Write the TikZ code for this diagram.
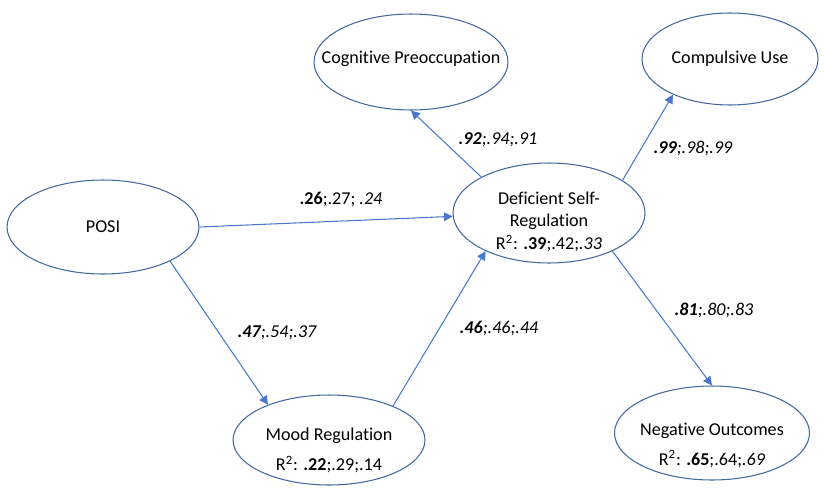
\documentclass[tikz,border=0pt]{standalone}
\usepackage{fontspec}
\setmainfont{Carlito}[Ligatures=NoCommon]
\usetikzlibrary{positioning}
\usetikzlibrary{arrows.meta}
\usetikzlibrary{shapes.geometric}
\definecolor{ellblue}{RGB}{65,105,160}
\definecolor{arrblue}{RGB}{75,120,205}

\tikzset{
    latent/.style={ellipse, draw=ellblue, line width=0.6pt, inner sep=0pt},
    vtext/.style={align=center, font=\fontsize{10.3}{13}\selectfont},
    coef/.style={font=\fontsize{10.3}{13}\selectfont},
    path/.style={draw=arrblue, line width=0.6pt, -{Triangle[length=5pt,width=5pt]}}
}

\begin{document}
\begin{tikzpicture}[x=0.02cm, y=-0.02cm]
    \useasboundingbox (0,0) rectangle (824,487);

    % latent variables
    \node[latent, minimum width=3.84cm, minimum height=1.88cm] (posi) at (103,227) {};
    \node[latent, minimum width=3.88cm, minimum height=1.92cm] (cog) at (411,62) {};
    \node[latent, minimum width=3.52cm, minimum height=1.84cm] (comp) at (730,59) {};
    \node[latent, minimum width=3.84cm, minimum height=2.00cm] (dsr) at (549,213) {};
    \node[latent, minimum width=3.84cm, minimum height=1.80cm] (mood) at (329,440) {};
    \node[latent, minimum width=3.90cm, minimum height=1.88cm] (neg) at (712,433) {};

    \node[vtext] (posit) at (posi) {POSI};
    \node[vtext] (cogt) at ([yshift=2pt]cog) {Cognitive Preoccupation};
    \node[vtext] (compt) at (comp) {Compulsive Use};
    \node[vtext] (dsrt) at ([yshift=-5pt]dsr) {Deficient Self-\\Regulation\\R\textsuperscript{2}: \textbf{.39};.42;\textit{.33}};
    \node[vtext] (moodt) at ([yshift=-6pt]mood) {Mood Regulation\\[4pt]R\textsuperscript{2}: \textbf{.22};.29;.14};
    \node[vtext] (negt) at ([yshift=-7pt]neg) {Negative Outcomes\\[4pt]R\textsuperscript{2}: \textbf{.65};.64;\textit{.69}};

    % structural paths
    \draw[path] (posi.0) -- (dsr.182);
    \draw[path] (posi.-27) -- (mood.150);
    \draw[path] (mood.28) -- (dsr.211);
    \draw[path] (dsr.152) -- (cog.270);
    \draw[path] (dsr.24) -- (comp.212);
    \draw[path] (dsr.-31) -- (neg.90);

    % path coefficients
    \node[coef] (c1) at (341,199) {\textbf{.26};.27; \textit{.24}};
    \node[coef] (c2) at (277,333) {\itshape\textbf{.47};.54;.37};
    \node[coef] (c3) at (499,328) {\itshape\textbf{.46};.46;.44};
    \node[coef] (c4) at (498,140) {\itshape\textbf{.92};.94;.91};
    \node[coef] (c5) at (693,148) {\itshape\textbf{.99};.98;.99};
    \node[coef] (c6) at (714,310) {\itshape\textbf{.81};.80;.83};
\end{tikzpicture}
\end{document}
